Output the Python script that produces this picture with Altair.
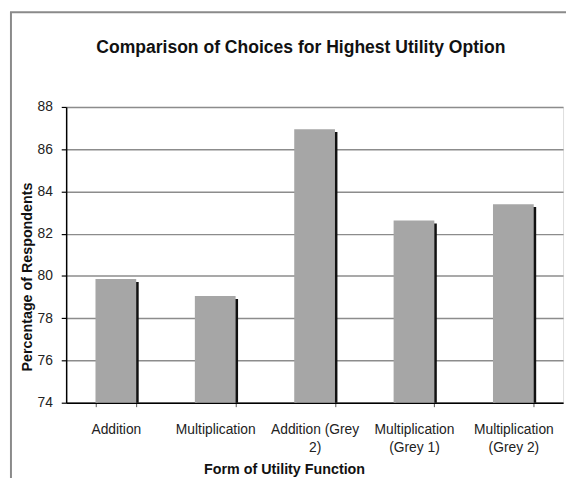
import altair as alt
import pandas as pd

categories = ["Addition", "Multiplication", "Addition (Grey 2)",
              "Multiplication (Grey 1)", "Multiplication (Grey 2)"]
label_lines = [["Addition"], ["Multiplication"], ["Addition (Grey", "2)"],
               ["Multiplication", "(Grey 1)"], ["Multiplication", "(Grey 2)"]]
values = [79.85, 79.05, 86.95, 82.62, 83.4]
y_ticks = [74, 76, 78, 80, 82, 84, 86, 88]

df = pd.DataFrame({"form": categories, "pct": values})

# build label expression for multi-line labels
expr = "datum.value"
for cat, lines in reversed(list(zip(categories, label_lines))):
    arr = "[" + ",".join("'" + l + "'" for l in lines) + "]"
    expr = f"datum.value == '{cat}' ? {arr} : ({expr})"

FONT = "Liberation Sans"

x_enc = alt.X(
    "form:N", sort=categories,
    scale=alt.Scale(paddingInner=0.59, paddingOuter=0.295),
    axis=alt.Axis(
        title="Form of Utility Function", labelAngle=0, labelExpr=expr,
        labelFont=FONT, labelFontSize=14, labelColor="#222",
        labelLineHeight=19, labelPadding=16, labelLimit=200,
        tickBand="extent", tickSize=4, tickColor="#555", tickWidth=1,
        domainColor="#000", domainWidth=1.5,
        titleFont=FONT, titleFontSize=14.5, titleFontWeight="bold",
        titleColor="#111", titleX=221, titleY=68, titleBaseline="middle",
        titleAlign="center", grid=False,
    ),
)
y_enc = alt.Y(
    "pct:Q",
    scale=alt.Scale(domain=[74, 88], zero=False, nice=False),
    axis=alt.Axis(
        title="Percentage of Respondents", values=y_ticks, format="d",
        labelFont=FONT, labelFontSize=14, labelColor="#222", labelPadding=9,
        tickSize=5, tickColor="#000", tickWidth=1.2,
        domainColor="#000", domainWidth=1.5,
        grid=True, gridColor="#8c8c8c", gridWidth=1.5,
        titleFont=FONT, titleFontSize=14.5, titleFontWeight="bold",
        titleColor="#111", titleX=-39.5, titleY=172, titleBaseline="middle",
        titleAlign="center", titleAngle=-90,
    ),
)

shadow = alt.Chart(df).mark_bar(color="#111", xOffset=2.5, yOffset=3).encode(
    x=x_enc, y=y_enc, y2=alt.datum(74)
)
bars = alt.Chart(df).mark_bar(color="#a6a6a6").encode(
    x=x_enc, y=y_enc, y2=alt.datum(74)
)

frame_df = pd.DataFrame({"k": [0]})
left_border = alt.Chart(frame_df).mark_rule(color="#8a8a8a", strokeWidth=2).encode(
    x=alt.value(-56), y=alt.value(-96), y2=alt.value(420)
)
top_border = alt.Chart(frame_df).mark_rule(color="#8a8a8a", strokeWidth=2).encode(
    x=alt.value(-57), x2=alt.value(620), y=alt.value(-96)
)

chart = alt.layer(left_border, top_border, shadow, bars).properties(
    width=504, height=300,
    title=alt.TitleParams(
        "Comparison of Choices for Highest Utility Option",
        font=FONT, fontSize=17.8, fontWeight="bold", color="#111",
        anchor="middle", frame="group", baseline="alphabetic",
        offset=0, dx=-14, dy=60,
    ),
    autosize=alt.AutoSizeParams(type="none"),
    padding={"left": 59, "top": 97, "right": 3, "bottom": 73},
).configure_view(stroke=None).configure(background="white")

chart.save("out.html", embed_options={"renderer": "svg", "actions": False})
